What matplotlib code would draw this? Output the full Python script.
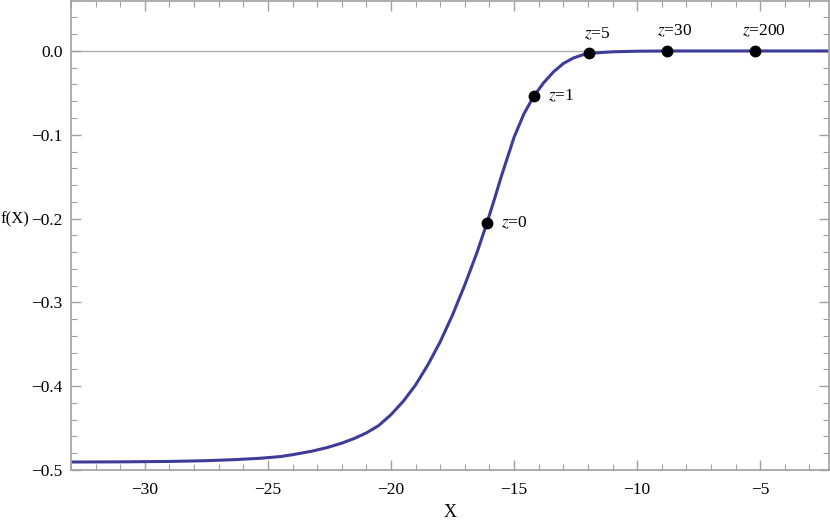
import matplotlib
matplotlib.use("Agg")
import matplotlib.pyplot as plt
from matplotlib.ticker import MultipleLocator

plt.rcParams['font.family'] = ['Liberation Serif', 'DejaVu Serif']
plt.rcParams['mathtext.fontset'] = 'stix'

# curve
x_vals = [-33.0, -31.0, -29.0, -27.5, -26.3, -25.3, -24.5, -24.0, -23.2, -22.6,
          -22.0, -21.5, -21.0, -20.5, -20.0, -19.5, -19.0, -18.5, -18.0, -17.5,
          -17.0, -16.5, -16.1, -15.8, -15.5, -15.0, -14.6, -14.2, -13.8, -13.4,
          -13.0, -12.6, -12.2, -11.8, -11.0, -10.0, -8.7, -7.0, -5.0, -2.2]
y_vals = [-0.4905, -0.4903, -0.4898, -0.4889, -0.4876, -0.4860, -0.4840, -0.4818, -0.4775, -0.4733,
          -0.4680, -0.4625, -0.4558, -0.4470, -0.4340, -0.4180, -0.3985, -0.3745, -0.3470, -0.3150,
          -0.2790, -0.2400, -0.2050, -0.1770, -0.1480, -0.1030, -0.0750, -0.0540, -0.0380, -0.0250,
          -0.0150, -0.0085, -0.0045, -0.0025, -0.0010, -0.0003, 0.0, 0.0, 0.0, 0.0]

# marked points
pt_x = [-16.1, -14.2, -11.96, -8.8, -5.2]
pt_y = [-0.205, -0.054, -0.003, 0.0, 0.0]
pt_labels = ['$z$=0', '$z$=1', '$z$=5', '$z$=30', '$z$=200']

frame_col = '#a0a0a0'
curve_col = '#3d3d99'

fig = plt.figure(figsize=(8.3, 5.2), dpi=100)
ax = fig.add_axes([0.0855, 0.0962, 0.9135, 0.902])

ax.axhline(0, color='#b0b0b0', lw=1.0, zorder=1)
ax.plot(x_vals, y_vals, color=curve_col, lw=2.2, zorder=2,
        solid_joinstyle='round', solid_capstyle='butt')
ax.plot(pt_x, pt_y, 'o', color='black', ms=7.5, zorder=3)

for i, (px, py, lab) in enumerate(zip(pt_x, pt_y, pt_labels)):
    if i < 2:
        ax.annotate(lab, (px, py), xytext=(10, 0), textcoords='offset points',
                    ha='left', va='center', fontsize=12.5)
    else:
        ax.annotate(lab, (px, py), xytext=(6, 14), textcoords='offset points',
                    ha='center', va='center', fontsize=12.5)

ax.set_xlim(-33.0, -2.2)
ax.set_ylim(-0.5, 0.0597)
ax.xaxis.set_minor_locator(MultipleLocator(1))
ax.yaxis.set_minor_locator(MultipleLocator(0.02))
ax.set_yticks([0.0, -0.1, -0.2, -0.3, -0.4, -0.5])
ax.set_yticklabels(['0.0', '\u22120.1', '\u22120.2', '\u22120.3', '\u22120.4', '\u22120.5'])
ax.set_xticks([-30, -25, -20, -15, -10, -5])
ax.set_xticklabels(['\u221230', '\u221225', '\u221220', '\u221215', '\u221210', '\u22125'])

ax.tick_params(which='both', direction='in', top=True, right=True,
               color=frame_col, labelsize=12.5)
ax.tick_params(which='major', length=7, width=1)
ax.tick_params(which='minor', length=4, width=0.8)
ax.tick_params(axis='x', pad=9)
ax.tick_params(axis='y', pad=6)
for s in ax.spines.values():
    s.set_color(frame_col)
    s.set_linewidth(1.2)

ax.set_xlabel('X', fontsize=13, labelpad=4)
ax.set_ylabel('f(X)', fontsize=12, rotation=0, ha='center', va='center')
ax.yaxis.set_label_coords(-0.074, 0.535)

fig.savefig('out.png', dpi=100)
